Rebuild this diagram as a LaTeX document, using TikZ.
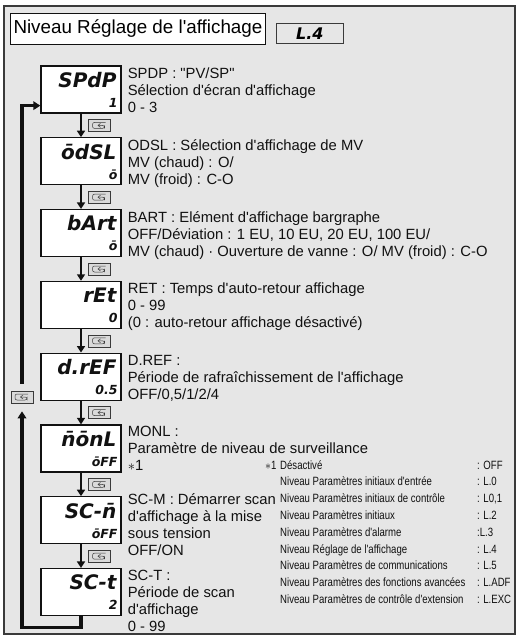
\documentclass[tikz,border=0pt]{standalone}
\usepackage{fontspec}
\setmainfont{Liberation Sans}[Ligatures=TeXOff]
\newfontfamily\segfont{DejaVu Sans}
\newfontfamily\narrowfont[FakeStretch=0.8]{Liberation Sans}
\usetikzlibrary{arrows.meta,positioning,calc}
\definecolor{dpInk}{HTML}{111111}
\definecolor{dpPanel}{HTML}{E6E6E6}
\definecolor{dpFrame}{HTML}{3A3A3A}
\definecolor{dpKey}{HTML}{DADADA}
\newcommand{\segM}{\segfont\bfseries\itshape\fontsize{20}{20}\selectfont}
\newcommand{\segS}{\segfont\bfseries\itshape\fontsize{12.5}{13}\selectfont}
\tikzset{
  panel/.style={draw=dpFrame, fill=dpPanel, line width=1.2pt},
  ttlbox/.style={draw=dpInk, fill=white, line width=1pt, minimum height=31pt, inner xsep=3pt, font=\fontsize{18.8}{20}\selectfont},
  lvbox/.style={draw=dpFrame, fill=dpPanel, line width=0.9pt, minimum width=67pt, minimum height=20pt, inner sep=0pt, font=\segfont\bfseries\itshape\fontsize{16}{16}\selectfont},
  disp/.style={draw=dpInk, fill=white, line width=1.3pt, minimum width=80pt, minimum height=47pt, inner sep=0pt},
  segm/.style={font=\segM, inner sep=0pt, anchor=base east, text=dpInk},
  segs/.style={font=\segS, inner sep=0pt, anchor=base east, text=dpInk},
  desc/.style={font=\fontsize{14.8}{17}\selectfont, align=left, inner sep=0pt, text=dpInk},
  note/.style={font=\narrowfont\fontsize{12}{16.8}\selectfont, inner sep=0pt, anchor=base west, text=dpInk},
  keyb/.style={draw=dpFrame, fill=dpKey, line width=0.6pt, minimum width=22pt, minimum height=12pt, inner sep=0pt,
    path picture={
      \draw[-, dpFrame, line width=0.5pt, rounded corners=2pt, shift={(path picture bounding box.center)}] (6,-3) -- (-7,-3) -- (-7,3) -- (5,3) -- (5,0) -- (-1.5,0);
      \draw[-, dpFrame, line width=0.5pt, shift={(path picture bounding box.center)}] (1,-2) -- (-1.5,0) -- (1,2);
    }},
  arr/.style={-{Triangle[length=6.5pt,width=8pt]}, line width=2.7pt, draw=dpInk},
  loopln/.style={-{Triangle[length=7pt,width=8.5pt]}, line width=3.2pt, draw=dpInk},
}
\begin{document}
\begin{tikzpicture}[x=1pt, y=-1pt, node distance=23.5pt]
\useasboundingbox (0,0) rectangle (518,637);
\draw[panel] (4,6) rectangle (515,634);
\node[ttlbox, anchor=north west] (ttl) at (10,13) {Niveau Réglage de l'affichage};
\node[lvbox, anchor=south west] (lvl) at ([xshift=10pt,yshift=1pt]ttl.south east) {L.4};

\node[disp] (spdp) at (81,89.5) {};
\node[disp, below=of spdp] (odsl) {};
\node[disp, below=of odsl] (bart) {};
\node[disp, below=of bart] (ret) {};
\node[disp, below=of ret] (dref) {};
\node[disp, below=of dref] (monl) {};
\node[disp, below=of monl] (scm) {};
\node[disp, below=of scm] (sct) {};

\node[segm] (spdpM) at ([xshift=-5pt,yshift=-22pt]spdp.north east) {SPdP};
\node[segs] (spdpS) at ([xshift=-4pt,yshift=-42pt]spdp.north east) {1};
\node[segm] (odslM) at ([xshift=-5pt,yshift=-22pt]odsl.north east) {\=odSL};
\node[segs] (odslS) at ([xshift=-4pt,yshift=-42pt]odsl.north east) {\=o};
\node[segm] (bartM) at ([xshift=-5pt,yshift=-22pt]bart.north east) {bArt};
\node[segs] (bartS) at ([xshift=-4pt,yshift=-42pt]bart.north east) {\=o};
\node[segm] (retM) at ([xshift=-5pt,yshift=-22pt]ret.north east) {rEt};
\node[segs] (retS) at ([xshift=-4pt,yshift=-42pt]ret.north east) {0};
\node[segm] (drefM) at ([xshift=-5pt,yshift=-22pt]dref.north east) {d.rEF};
\node[segs] (drefS) at ([xshift=-4pt,yshift=-42pt]dref.north east) {0.5};
\node[segm] (monlM) at ([xshift=-5pt,yshift=-22pt]monl.north east) {\=n\=onL};
\node[segs] (monlS) at ([xshift=-4pt,yshift=-42pt]monl.north east) {\=oFF};
\node[segm] (scmM) at ([xshift=-5pt,yshift=-22pt]scm.north east) {SC-\=n};
\node[segs] (scmS) at ([xshift=-4pt,yshift=-42pt]scm.north east) {\=oFF};
\node[segm] (sctM) at ([xshift=-5pt,yshift=-22pt]sct.north east) {SC-t};
\node[segs] (sctS) at ([xshift=-4pt,yshift=-42pt]sct.north east) {2};

\node[desc, below right=2pt and 6pt of spdp.north east] (spdpT) {SPDP : "PV/SP"\\Sélection d'écran d'affichage\\0 - 3};
\node[desc, below right=2pt and 6pt of odsl.north east] (odslT) {ODSL : Sélection d'affichage de MV\\MV (chaud) : O/\\MV (froid) : C-O};
\node[desc, below right=2pt and 6pt of bart.north east] (bartT) {BART : Elément d'affichage bargraphe\\OFF/Déviation : 1 EU, 10 EU, 20 EU, 100 EU/\\MV (chaud) · Ouverture de vanne : O/ MV (froid) : C-O};
\node[desc, below right=2pt and 6pt of ret.north east] (retT) {RET : Temps d'auto-retour affichage\\0 - 99\\(0 : auto-retour affichage désactivé)};
\node[desc, below right=3pt and 6pt of dref.north east] (drefT) {D.REF :\\Période de rafraîchissement de l'affichage\\OFF/0,5/1/2/4};
\node[desc, below right=2pt and 6pt of monl.north east] (monlT) {MONL :\\Paramètre de niveau de surveillance\\$\ast$1};
\node[desc, below right=-3pt and 6pt of scm.north east] (scmT) {SC-M : Démarrer scan\\d'affichage à la mise\\sous tension\\OFF/ON};
\node[desc, below right=2pt and 6pt of sct.north east] (sctT) {SC-T :\\Période de scan\\d'affichage\\0 - 99};

\draw[arr] (spdp) -- (odsl) node[keyb, midway, xshift=18.5pt] (k1) {};
\draw[arr] (odsl) -- (bart) node[keyb, midway, xshift=18.5pt] (k2) {};
\draw[arr] (bart) -- (ret) node[keyb, midway, xshift=18.5pt] (k3) {};
\draw[arr] (ret) -- (dref) node[keyb, midway, xshift=18.5pt] (k4) {};
\draw[arr] (dref) -- (monl) node[keyb, midway, xshift=18.5pt] (k5) {};
\draw[arr] (monl) -- (scm) node[keyb, midway, xshift=18.5pt] (k6) {};
\draw[arr] (scm) -- (sct) node[keyb, midway, xshift=18.5pt] (k7) {};

\node[keyb] (kloop) at (22,397) {};
\draw[loopln] (sct.south) -- ++(0,11) -| ([yshift=-8pt]kloop.south);
\draw[loopln] ([yshift=7pt]kloop.north) |- ([yshift=8pt]spdp.south west);

\node[note] (fnmark) at (265,469) {$\ast$1};
\node[note] (fnlist) at (280,469) {\begin{tabular}[t]{@{}p{197pt}@{}l@{}}
Désactivé & : OFF\\
Niveau Paramètres initiaux d'entrée & : L.0\\
Niveau Paramètres initiaux de contrôle & : L0,1\\
Niveau Paramètres initiaux & : L.2\\
Niveau Paramètres d'alarme & :L.3\\
Niveau Réglage de l'affichage & : L.4\\
Niveau Paramètres de communications & : L.5\\
Niveau Paramètres des fonctions avancées & : L.ADF\\
Niveau Paramètres de contrôle d'extension & : L.EXC
\end{tabular}};
\end{tikzpicture}
\end{document}
